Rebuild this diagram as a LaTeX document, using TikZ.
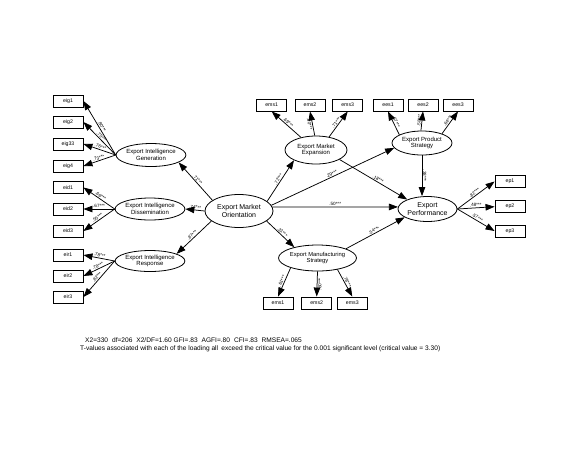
\documentclass[tikz,border=0pt]{standalone}
\usepackage{fontspec}
\setmainfont{Liberation Sans}
\usetikzlibrary{arrows.meta,shapes.geometric}
\begin{document}
\begin{tikzpicture}[x=1pt,y=-1pt,
  lat/.style={ellipse,draw,line width=0.8pt,inner sep=0pt,align=center,font=\fontsize{6}{6.8}\selectfont},
  obs/.style={rectangle,draw,line width=0.9pt,minimum width=30pt,minimum height=12pt,inner sep=0pt,font=\fontsize{5.2}{6}\selectfont},
  arr/.style={draw,line width=0.75pt,-{Triangle[length=9pt,width=6.5pt]}},
  lab/.style={font=\fontsize{4.6}{5}\selectfont,inner sep=0.8pt,sloped,above},
  labb/.style={font=\fontsize{4.6}{5}\selectfont,inner sep=0.8pt,sloped,below},
  note/.style={anchor=west,inner sep=0pt,font=\fontsize{6.6}{7.5}\selectfont}]
\fill[white] (0,0) rectangle (580,448);
\useasboundingbox (0,0) rectangle (580,448);
% latent variables
\node[lat,minimum width=62pt,minimum height=23pt] (EIG) at (151,155) {Export Intelligence\\Generation};
\node[lat,minimum width=60pt,minimum height=22pt] (EID) at (150,209) {Export Intelligence\\Dissemination};
\node[lat,minimum width=60pt,minimum height=21pt] (EIR) at (150,261) {Export Intelligence\\Response};
\node[lat,minimum width=68pt,minimum height=33pt,font=\fontsize{7}{8}\selectfont] (EMO) at (239,211) {Export Market\\Orientation};
\node[lat,minimum width=62pt,minimum height=28pt] (EME) at (316,150) {Export Market\\Expansion};
\node[lat,minimum width=60pt,minimum height=24pt] (EPS) at (422,143) {Export Product\\Strategy};
\node[lat,minimum width=59pt,minimum height=25pt,font=\fontsize{7}{8}\selectfont] (EP) at (427.5,209) {Export\\Performance};
\node[lat,minimum width=65pt,minimum height=26pt,font=\fontsize{5.8}{6.8}\selectfont] (EMS) at (317.5,258) {Export Manufacturing\\Strategy};
% observed variables
\node[obs] (eig1) at (68,101) {eig1};
\node[obs] (eig2) at (68,122) {eig2};
\node[obs] (eig33) at (68,144) {eig33};
\node[obs] (eig4) at (68,166) {eig4};
\node[obs] (eid1) at (68,187.5) {eid1};
\node[obs] (eid2) at (68,209) {eid2};
\node[obs] (eid3) at (68,231) {eid3};
\node[obs] (eir1) at (68,255) {eir1};
\node[obs] (eir2) at (68,276) {eir2};
\node[obs] (eir3) at (68,297) {eir3};
\node[obs] (mA1) at (271.7,105) {ems1};
\node[obs] (mA2) at (310,105) {ems2};
\node[obs] (mA3) at (347.7,105) {ems3};
\node[obs] (ees1) at (388,105) {ees1};
\node[obs] (ees2) at (423,105) {ees2};
\node[obs] (ees3) at (458,105) {ees3};
\node[obs] (ep1) at (510,181.5) {ep1};
\node[obs] (ep2) at (510,206.7) {ep2};
\node[obs] (ep3) at (510,231) {ep3};
\node[obs] (mB1) at (278,303) {ems1};
\node[obs] (mB2) at (316.7,303) {ems2};
\node[obs] (mB3) at (352.3,303) {ems3};
% indicator loadings
\draw[arr] (EIG.west) -- node[lab]{.80***} (eig1.east);
\draw[arr] (EIG.west) -- node[lab]{.75***} (eig2.east);
\draw[arr] (EIG.west) -- node[lab]{.76***} (eig33.east);
\draw[arr] (EIG.west) -- node[lab]{.73***} (eig4.east);
\draw[arr] (EID.west) -- node[lab]{.66***} (eid1.east);
\draw[arr] (EID.west) -- node[lab]{.67***} (eid2.east);
\draw[arr] (EID.west) -- node[lab]{.55***} (eid3.east);
\draw[arr] (EIR.west) -- node[lab]{.78***} (eir1.east);
\draw[arr] (EIR.west) -- node[lab]{.78***} (eir2.east);
\draw[arr] (EIR.west) -- node[lab]{.82***} (eir3.east);
\draw[arr] (EME.140) -- node[lab]{.69***} (mA1.south);
\draw[arr] (EME.95) -- node[labb]{.80***} (mA2.south);
\draw[arr] (EME.45) -- node[lab]{.71***} (mA3.south);
\draw[arr] (EPS.160) -- node[lab]{.67***} (ees1.south);
\draw[arr] (EPS.95) -- node[lab]{.58***} (ees2.south);
\draw[arr] (EPS.25) -- node[lab]{.64***} (ees3.south);
\draw[arr] (EP.east) -- node[lab]{.82***} (ep1.west);
\draw[arr] (EP.east) -- node[lab]{.48***} (ep2.west);
\draw[arr] (EP.east) -- node[lab]{.57***} (ep3.west);
\draw[arr] (EMS.200) -- node[lab]{.61***} (mB1.north);
\draw[arr] (EMS.270) -- node[labb]{.60***} (mB2.north);
\draw[arr] (EMS.-30) -- node[lab]{.78***} (mB3.north);
% structural paths
\draw[arr] (EMO.158) -- node[lab]{.71***} (EIG.-15);
\draw[arr] (EMO.180) -- node[lab]{.74***} (EID.east);
\draw[arr] (EMO.-160) -- node[lab]{.87***} (EIR.15);
\draw[arr] (EMO.19) -- node[lab]{.72***} (EME.205);
\draw[arr] (EMO.10) -- node[lab]{.29***} (EPS.190);
\draw[arr] (EMO.7) -- node[lab]{.50***} (EP.176);
\draw[arr] (EMO.-20) -- node[lab]{.31***} (EMS.155);
\draw[arr] (EME.-22) -- node[lab,pos=0.55]{.18***} (EP.155);
\draw[arr] (EPS.south) -- node[lab]{.38***} (EPS.south |- EP.north);
\draw[arr] (EMS.18) -- node[lab]{.54***} (EP.200);
% notes
\node[note] (fit) at (85,340) {X2=330\hspace{0.6em}df=206\hspace{0.6em}X2/DF=1.60 GFI=.83\hspace{0.6em}AGFI=.80\hspace{0.6em}CFI=.83\hspace{0.6em}RMSEA=.065};
\node[note] (tv) at (80,349) {T-values associated with each of the loading all\hspace{0.5em}exceed the critical value for the 0.001 significant level (critical value = 3.30)};
\end{tikzpicture}
\end{document}
